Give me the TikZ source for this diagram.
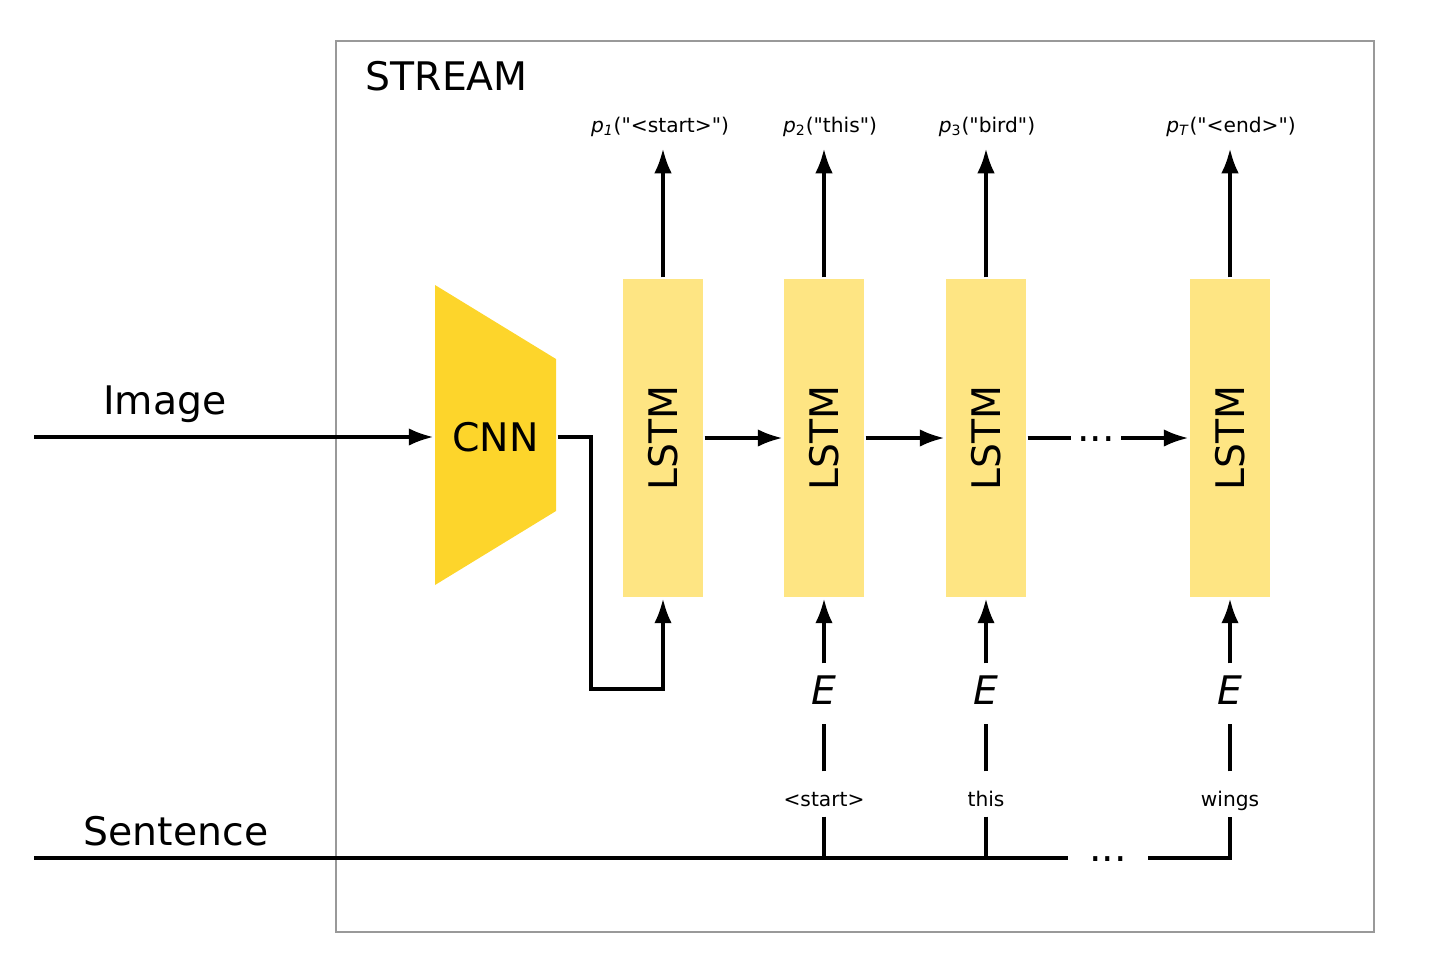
\documentclass[tikz,border=0pt]{standalone}
\usepackage{fontspec}
\setmainfont{DejaVu Sans}
\usetikzlibrary{arrows.meta}
\definecolor{cnnyellow}{HTML}{FDD52B}
\definecolor{lstmyellow}{HTML}{FEE583}
\tikzset{
    	every node/.append style={font=\fontsize{11.5}{14}\selectfont}}
\newcommand{\qt}{\textquotedbl}

\begin{document}
\begin{tikzpicture}
  [x=0.02cm,y=-0.02cm,line width=1.9pt,>={Latex[length=14pt,width=10pt]},
   big/.style={font=\fontsize{22.4}{27}\selectfont},
   lstm/.style={inner sep=0pt,fill=lstmyellow,minimum width=1.6cm,minimum height=6.36cm,big},
   outlbl/.style={anchor=base,inner sep=0pt,text depth=0.3cm},
   emb/.style={anchor=base,inner sep=0pt,text height=0.78cm,text depth=0.36cm,big},
   word/.style={anchor=base,inner sep=0pt,text height=0.66cm,text depth=0.18cm},
   gap/.style={anchor=base,inner ysep=0pt,big}]
  \useasboundingbox (0,0) rectangle (1449,964);
  \draw [black!40,line width=0.9pt] (336,41) rectangle (1374,932);
  \fill [cnnyellow] (435,285) -- (556,359) -- (556,511) -- (435,585) -- cycle;
  \node [big,anchor=base west,inner sep=0pt] (stream) at (364,90) {STREAM};
  \node [big,anchor=base,inner sep=0pt] (image) at (165,414) {Image};
  \node [big,anchor=base,inner sep=0pt] (sentence) at (176,845) {Sentence};
  \node [big,inner sep=0pt,minimum width=2.42cm,minimum height=3.04cm] (cnn) at (495.5,437) {CNN};
  \node [lstm] (l1) at (663,438) {\rotatebox{90}{LSTM}};
  \node [lstm] (l2) at (824,438) {\rotatebox{90}{LSTM}};
  \node [lstm] (l3) at (986,438) {\rotatebox{90}{LSTM}};
  \node [lstm] (l4) at (1230,438) {\rotatebox{90}{LSTM}};
  \node [outlbl] (o1) at (660,132) {\textit{p}\textsubscript{\textit{1}}(\qt<start>\qt)};
  \node [outlbl] (o2) at (830,132) {\textit{p}\textsubscript{2}(\qt this\qt)};
  \node [outlbl] (o3) at (987,132) {\textit{p}\textsubscript{3}(\qt bird\qt)};
  \node [outlbl] (o4) at (1231,132) {\textit{p}\textsubscript{\textit{T}}(\qt<end>\qt)};
  \node [emb] (e2) at (824,704) {\textit{E}};
  \node [emb] (e3) at (986,704) {\textit{E}};
  \node [emb] (e4) at (1230,704) {\textit{E}};
  \node [word] (w2) at (824,806) {<start>};
  \node [word] (w3) at (986,806) {this};
  \node [word] (w4) at (1230,806) {wings};
  \coordinate (imgin) at (34,437);
  \coordinate (sentin) at (34,858);
  \coordinate (bend) at (591,689);
  \node [gap,inner xsep=0.1cm] (hdots) at (1096,441) {...};
  \node [gap,inner xsep=0.4cm] (sdots) at (1108,861) {...};

  \draw [->] (imgin) -- (cnn);
  \draw [->] (cnn.east) -| (bend) -| (l1.south);
  \foreach \from/\to in {l1/l2,l2/l3}
    \draw [->] (\from) -- (\to);
  \draw (l3.east) -- (l3.east -| hdots.west);
  \draw [->] (l4.west -| hdots.east) -- (l4.west);

  \foreach \from/\to in {l1/o1,l2/o2,l3/o3,l4/o4}
    \draw [->] (\from.north) -- (\from.north |- \to.south);
  \foreach \from/\to in {e2/l2,e3/l3,e4/l4}
    \draw [->] (\from) -- (\to);
  \foreach \from/\to in {w2/e2,w3/e3,w4/e4}
    \draw (\from) -- (\to);

  \draw (sentin) -- (sentin -| sdots.west);
  \foreach \w in {w2,w3}
    \draw (\w) -- (\w |- sentin);
  \draw (sentin -| sdots.east) -| (w4);
\end{tikzpicture}
\end{document}
